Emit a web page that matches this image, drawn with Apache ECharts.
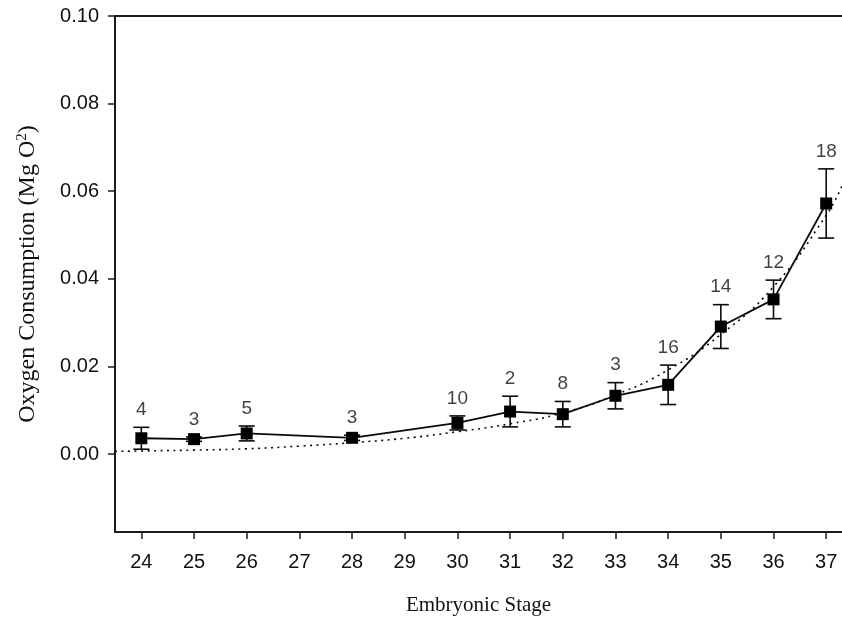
<!DOCTYPE html>
<html>
<head>
<meta charset="utf-8">
<script src="https://cdn.jsdelivr.net/npm/echarts@6/dist/echarts.min.js"></script>
<style>
  html, body { margin: 0; padding: 0; background: #fff; overflow: hidden; }
  #chart { width: 842px; height: 621px; }
</style>
</head>
<body>
<div id="chart"></div>
<script>
// ---- data ----
const stageTicks = [24, 25, 26, 27, 28, 29, 30, 31, 32, 33, 34, 35, 36, 37];
const yTicks = [0.00, 0.02, 0.04, 0.06, 0.08, 0.10];

const stages = [24, 25, 26, 28, 30, 31, 32, 33, 34, 35, 36, 37];
const means = [0.0036, 0.0034, 0.0047, 0.0037, 0.0071, 0.0097, 0.0091, 0.0133, 0.0158, 0.0291, 0.0353, 0.0572];
const errors = [0.0025, 0.0005, 0.0017, 0.0006, 0.0016, 0.0035, 0.0029, 0.0030, 0.0045, 0.0050, 0.0044, 0.0079];
const sampleSizes = ['4', '3', '5', '3', '10', '2', '8', '3', '16', '14', '12', '18'];

const fitStages = [23.5, 24, 25, 26, 27, 28, 29, 30, 31, 32, 33, 34, 35, 36, 37, 37.3];
const fitValues = [0.0006, 0.0007, 0.0009, 0.0012, 0.0018, 0.0026, 0.0036, 0.0051, 0.0069, 0.0094, 0.0135, 0.0192, 0.0273, 0.0382, 0.0545, 0.0612];

// ---- build series data ----
const meanData = stages.map((s, i) => [s, means[i]]);
const errData = stages.map((s, i) => [s, means[i] - errors[i], means[i] + errors[i]]);
const labelData = stages.map((s, i) => [s, means[i] + errors[i]]);
const fitData = fitStages.map((s, i) => [s, fitValues[i]]);

const sans = 'Liberation Sans, Arial, sans-serif';
const serif = 'Liberation Serif, Times New Roman, serif';
const ink = '#0a0a0a';
const txt = '#111';
const axisCol = '#1c1c1c';

const chart = echarts.init(document.getElementById('chart'), null, { renderer: 'canvas' });
chart.setOption({
  animation: false,
  backgroundColor: '#fff',
  grid: { left: 115, top: 16, bottom: 89, right: 0, show: false },
  xAxis: [
    {
      type: 'value', min: 23.5, max: 37.3,
      name: 'Embryonic Stage', nameLocation: 'middle', nameGap: 63,
      nameTextStyle: { fontFamily: serif, fontSize: 21, color: txt },
      axisLine: { show: true, onZero: false, lineStyle: { color: axisCol, width: 2 } },
      axisTick: { show: true, customValues: stageTicks, length: 7, inside: false, lineStyle: { color: axisCol, width: 1.5 } },
      axisLabel: { customValues: stageTicks, margin: 20, fontFamily: sans, fontSize: 20, color: txt, formatter: v => String(v) },
      splitLine: { show: false }
    },
    {
      type: 'value', min: 23.5, max: 37.3, position: 'top',
      axisLine: { show: true, onZero: false, lineStyle: { color: axisCol, width: 2 } },
      axisTick: { show: false }, axisLabel: { show: false }, splitLine: { show: false }
    }
  ],
  yAxis: {
    type: 'value', min: -0.0178, max: 0.10,
    name: '{t|Oxygen Consumption (Mg O}{s|2}{t|)}', nameLocation: 'middle', nameGap: 74, nameRotate: 90,
    nameTextStyle: {
      rich: {
        t: { fontFamily: serif, fontSize: 24, color: txt },
        s: { fontFamily: serif, fontSize: 15, color: txt, verticalAlign: 'top', padding: [0, 0, 11, 0] }
      }
    },
    axisLine: { show: true, lineStyle: { color: axisCol, width: 2 } },
    axisTick: { show: true, customValues: yTicks, length: 7, inside: false, lineStyle: { color: axisCol, width: 1.5 } },
    axisLabel: { customValues: yTicks, margin: 16, fontFamily: sans, fontSize: 20, color: txt, formatter: v => v.toFixed(2) },
    splitLine: { show: false }
  },
  series: [
    {
      name: 'fit', type: 'line', data: fitData, smooth: true, symbol: 'none', z: 1,
      lineStyle: { color: ink, width: 1.6, type: [2, 4.5] }
    },
    {
      name: 'err', type: 'custom', data: errData, z: 2,
      renderItem: function (params, api) {
        const x = api.value(0);
        const lo = api.coord([x, api.value(1)]);
        const hi = api.coord([x, api.value(2)]);
        const hw = 8;
        const style = { stroke: ink, lineWidth: 1.6, fill: null };
        return {
          type: 'group',
          children: [
            { type: 'line', shape: { x1: lo[0], y1: lo[1], x2: hi[0], y2: hi[1] }, style: style },
            { type: 'line', shape: { x1: lo[0] - hw, y1: lo[1], x2: lo[0] + hw, y2: lo[1] }, style: style },
            { type: 'line', shape: { x1: hi[0] - hw, y1: hi[1], x2: hi[0] + hw, y2: hi[1] }, style: style }
          ]
        };
      }
    },
    {
      name: 'mean', type: 'line', data: meanData, symbol: 'rect', symbolSize: 12, z: 3,
      itemStyle: { color: '#000' },
      lineStyle: { color: ink, width: 1.8 }
    },
    {
      name: 'n', type: 'scatter', data: labelData, symbolSize: 0, z: 4, silent: true,
      label: {
        show: true, position: 'top', distance: 8,
        fontFamily: sans, fontSize: 19, color: txt,
        formatter: p => sampleSizes[p.dataIndex]
      }
    }
  ]
});
</script>
</body>
</html>
